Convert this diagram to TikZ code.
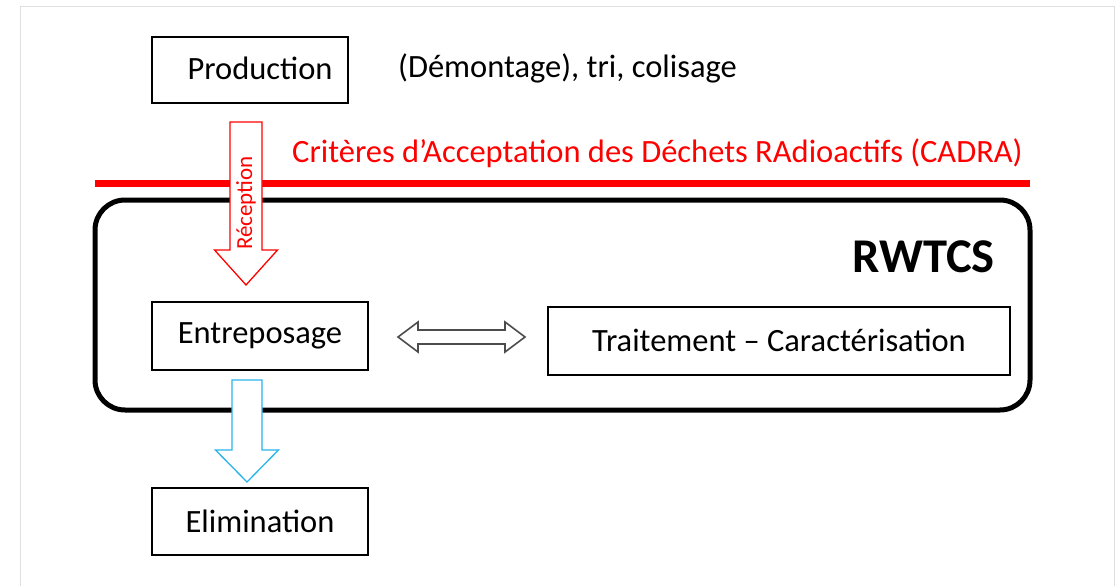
\documentclass[tikz,border=0pt]{standalone}
\usepackage{fontspec}
\setmainfont{Carlito}
\usetikzlibrary{calc}
\definecolor{cadrared}{RGB}{255,0,0}
\definecolor{outblue}{RGB}{40,180,235}
\begin{document}
\begin{tikzpicture}[x=1pt,y=-1pt,
  lbl/.style={font=\fontsize{32.5}{36}\selectfont, inner sep=0pt},
  stepbox/.style={draw=black, line width=1.5pt, inner sep=0pt},
  blockarrow/.style={line width=1.3pt, fill=white, line join=miter}]
  % page and frame
  \useasboundingbox (0,0) rectangle (1120,586);
  \draw[gray!25, line width=1pt] (20,600) -- (20,7) -- (1114,7) -- (1114,600);

  % boxes
  \node[stepbox, minimum width=196pt, minimum height=66pt] (prod) at (250,70) {};
  \node[lbl] (prodtxt) at (260,68) {Production};
  \node[lbl, anchor=west] (demont) at (398,68) {(Démontage), tri, colisage};

  % acceptance criteria line
  \node[lbl, anchor=west, text=cadrared] (cadra) at (292,153)
    {Critères d’Acceptation des Déchets RAdioactifs (CADRA)};
  \coordinate (lineL) at (95,183);
  \coordinate (lineR) at (1030,183);
  \draw[cadrared, line width=7pt] (lineL) -- (lineR);

  % RWTCS facility
  \node[draw=black, line width=5pt, rounded corners=30pt, minimum width=935pt,
    minimum height=210pt] (rwtcs) at (562.5,305) {};
  \node[font=\fontsize{48.5}{52}\selectfont\bfseries, inner sep=0pt, anchor=east]
    (rwtcslbl) at (995,257) {RWTCS};

  \node[stepbox, minimum width=216pt, minimum height=68pt] (entre) at (260,336) {};
  \node[lbl] (entretxt) at (260,336) {Entreposage};
  \node[stepbox, minimum width=462pt, minimum height=68pt] (trait) at (779,341) {};
  \node[lbl] (traittxt) at (779,340) {Traitement – Caractérisation};

  \node[stepbox, minimum width=216pt, minimum height=67pt] (elim) at (260,521.5) {};
  \node[lbl] (elimtxt) at (260,521) {Elimination};

  % reception arrow: from below production down onto the storage box
  \coordinate (recvtop) at (246,122);
  \coordinate (recvtip) at (246,285);
  \draw[blockarrow, draw=cadrared]
    ($(recvtop)+(-16,0)$) -- ($(recvtop)+(16,0)$) -- ($(recvtip)+(16,-35)$)
    -- ($(recvtip)+(31.5,-35)$) -- (recvtip) -- ($(recvtip)+(-31.5,-35)$)
    -- ($(recvtip)+(-16,-35)$) -- cycle;
  \node[font=\fontsize{23}{26}\selectfont, text=cadrared, rotate=90, inner sep=0pt]
    (recvtxt) at (246,203) {Réception};

  % disposal arrow: from the storage box down to elimination
  \coordinate (dispotop) at (247,380);
  \coordinate (dispotip) at (247,482);
  \draw[blockarrow, draw=outblue]
    ($(dispotop)+(-15,0)$) -- ($(dispotop)+(15,0)$) -- ($(dispotip)+(15,-32)$)
    -- ($(dispotip)+(31.5,-32)$) -- (dispotip) -- ($(dispotip)+(-31.5,-32)$)
    -- ($(dispotip)+(-15,-32)$) -- cycle;

  % exchange between storage and treatment
  \coordinate (exchL) at (398,337);
  \coordinate (exchR) at (525,337);
  \draw[blockarrow, draw=black!70, line width=1.6pt]
    (exchL) -- ($(exchL)+(20,-15)$) -- ($(exchL)+(20,-7)$) -- ($(exchR)+(-20,-7)$)
    -- ($(exchR)+(-20,-15)$) -- (exchR) -- ($(exchR)+(-20,15)$)
    -- ($(exchR)+(-20,7)$) -- ($(exchL)+(20,7)$) -- ($(exchL)+(20,15)$) -- cycle;
\end{tikzpicture}
\end{document}
